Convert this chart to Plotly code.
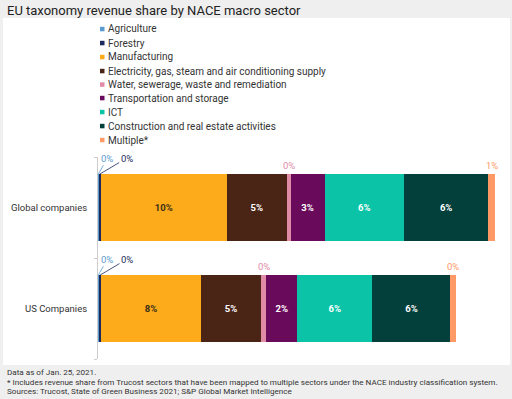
import math
import plotly.graph_objects as go

categories = ["Global companies", "US Companies"]
sectors = ["Agriculture", "Forestry", "Manufacturing",
           "Electricity, gas, steam and air conditioning supply",
           "Water, sewerage, waste and remediation",
           "Transportation and storage", "ICT",
           "Construction and real estate activities", "Multiple*"]
colors = ["#5b9bd0", "#1b2a5c", "#fdab1a", "#4a2415", "#e08ca6",
          "#690a5b", "#0bc4a7", "#033f3b", "#ff9966"]
inside_text_colors = ["#333333", "#333333", "#3a2f1a", "#ffffff", "#ffffff",
                      "#ffffff", "#ffffff", "#ffffff", "#ffffff"]

# values (% revenue share) per sector: [Global, US]
values = {
    "Agriculture": [0.05, 0.05],
    "Forestry": [0.15, 0.2],
    "Manufacturing": [9.65, 7.6],
    "Electricity, gas, steam and air conditioning supply": [4.55, 4.6],
    "Water, sewerage, waste and remediation": [0.3, 0.4],
    "Transportation and storage": [2.6, 2.35],
    "ICT": [6.05, 5.75],
    "Construction and real estate activities": [6.45, 5.95],
    "Multiple*": [0.5, 0.4],
}

title = "EU taxonomy revenue share by NACE macro sector"
footer = ["Data as of Jan. 25, 2021.",
          "* Includes revenue share from Trucost sectors that have been mapped to multiple sectors under the NACE industry classification system.",
          "Sources: Trucost, State of Green Business 2021; S&P Global Market Intelligence"]

W, H = 512, 399
FONT = "Roboto"
def px(x): return x / W
def py(y): return 1 - y / H

def lab(v):
    return f"{math.floor(v + 0.5)}%"

fig = go.Figure()
ycat = {"Global companies": 1, "US Companies": 0}
for s, c, tc in zip(sectors, colors, inside_text_colors):
    v = values[s]
    fig.add_trace(go.Bar(
        y=categories, x=v, orientation="h", name=s,
        marker=dict(color=c, line=dict(width=0)),
        text=[lab(a) if a >= 1 else "" for a in v],
        textposition="inside", insidetextanchor="middle", textangle=0,
        textfont=dict(family=FONT, size=9.5, color=tc, weight="bold"),
        showlegend=False, hoverinfo="skip",
    ))

annotations = []
shapes = []
# background white panel
shapes.append(dict(type="rect", xref="paper", yref="paper",
                   x0=px(3), x1=px(510), y0=py(365), y1=py(18),
                   fillcolor="white", line=dict(width=0), layer="below"))

BW = 0.66
for ci, cat in enumerate(categories):
    yi = ycat[cat]
    cum = 0.0
    for si, s in enumerate(sectors):
        v = values[s][ci]
        mid = cum + v / 2
        cum += v
        if v >= 1:
            continue
        if si in (0, 1):
            ax = 9 if si == 0 else 27
            annotations.append(dict(
                x=mid, y=yi + BW / 2, xref="x", yref="y", text=lab(v),
                showarrow=True, arrowhead=0, arrowwidth=0.8, arrowcolor=colors[si],
                ax=ax, ay=-16, standoff=0, startstandoff=0,
                font=dict(family=FONT, size=9.5, color=colors[si])))
        else:
            annotations.append(dict(
                x=mid, y=yi + BW / 2, xref="x", yref="y", text=lab(v),
                showarrow=False, yanchor="bottom", yshift=1,
                font=dict(family=FONT, size=9.5, color=colors[si])))

# legend drawn as annotations
leg_y = [29, 43, 57, 71, 84.5, 98, 112, 126, 140]
for s, c, yy in zip(sectors, colors, leg_y):
    shapes.append(dict(type="rect", xref="paper", yref="paper",
                       x0=px(100), x1=px(104.5), y0=py(yy + 2.3), y1=py(yy - 2.2),
                       fillcolor=c, line=dict(width=0)))
    annotations.append(dict(x=px(106), y=py(yy), xref="paper", yref="paper",
                            text=s, showarrow=False, xanchor="left", yanchor="middle",
                            font=dict(family=FONT, size=10, color="#333333")))

annotations.append(dict(x=px(5), y=py(10), xref="paper", yref="paper", text=title,
                        showarrow=False, xanchor="left", yanchor="middle",
                        font=dict(family=FONT, size=13, color="#222222")))
for t, yy in zip(footer, [372, 382, 391]):
    annotations.append(dict(x=px(5), y=py(yy), xref="paper", yref="paper", text=t,
                            showarrow=False, xanchor="left", yanchor="middle",
                            font=dict(family=FONT, size=8.1, color="#333333")))

fig.update_layout(
    width=W, height=H, margin=dict(l=0, r=0, t=0, b=0),
    paper_bgcolor="#efefef", plot_bgcolor="rgba(0,0,0,0)",
    barmode="stack", bargap=0.34, showlegend=False,
    xaxis=dict(domain=[px(98), px(98 + 31 * 13.1)], range=[0, 31], visible=False, fixedrange=True),
    yaxis=dict(domain=[py(359), py(157)], range=[-0.5, 1.5],
               categoryorder="array", categoryarray=["US Companies", "Global companies"],
               showline=True, linecolor="#cccccc", linewidth=1,
               ticks="outside", tickson="boundaries", ticklen=3, tickcolor="#cccccc",
               tickfont=dict(family=FONT, size=9.5, color="#333333"),
               showgrid=False, zeroline=False, ticklabelstandoff=8, fixedrange=True),
    shapes=shapes, annotations=annotations,
)
fig.write_html("out.html", config={"displayModeBar": False, "staticPlot": True},
               post_script="document.body.style.margin='0';document.body.style.overflow='hidden';")
